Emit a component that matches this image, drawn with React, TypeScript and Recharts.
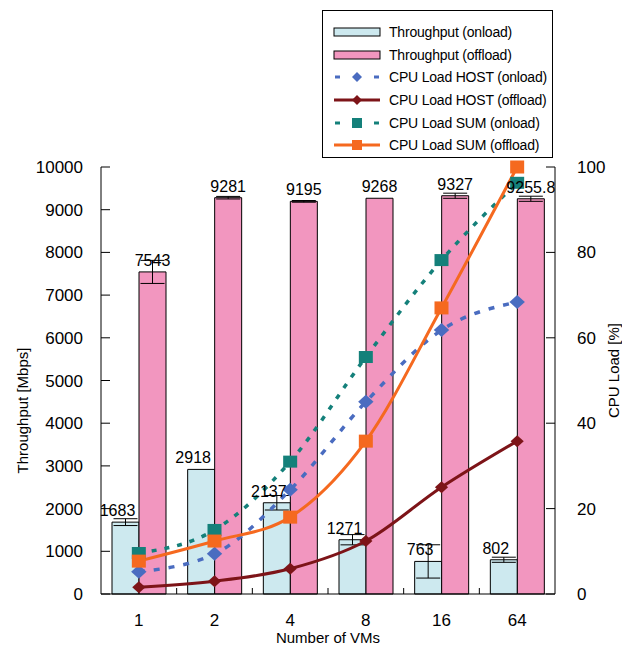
import React from 'react';
import { ComposedChart, Bar, Line, XAxis, YAxis, ErrorBar, LabelList, Legend } from 'recharts';

const vms = ['1', '2', '4', '8', '16', '64'];
const tpOnload = [1683, 2918, 2137, 1271, 763, 802];
const tpOffload = [7543, 9281, 9195, 9268, 9327, 9255.8];
const errOnload = [80, 0, 170, 120, 390, 60];
const errOffload = [270, 30, 20, 0, 60, 60];
const hostOnload = [5.2, 9.4, 24.4, 45, 61.8, 68.4];
const hostOffload = [1.6, 3, 5.9, 12.4, 25, 35.8];
const sumOnload = [9.6, 15, 31, 55.5, 78.2, 96.3];
const sumOffload = [7.7, 12.4, 18, 35.8, 67, 100];
const leftTicks = [0, 1000, 2000, 3000, 4000, 5000, 6000, 7000, 8000, 9000, 10000];
const rightTicks = [0, 20, 40, 60, 80, 100];

const data = vms.map((vm, i) => ({
  vm,
  on: tpOnload[i],
  off: tpOffload[i],
  onErr: errOnload[i],
  offErr: errOffload[i],
  hostOn: hostOnload[i],
  hostOff: hostOffload[i],
  sumOn: sumOnload[i],
  sumOff: sumOffload[i],
}));

const FONT = '"Liberation Sans", Arial, sans-serif';
const ON_FILL = '#cde9ef';
const OFF_FILL = '#f296bf';
const BLUE = '#4a6cc0';
const DARKRED = '#7d1418';
const TEAL = '#14807a';
const ORANGE = '#f5691f';

const W = 622;
const H = 645;
const LEFT_W = 101;
const RIGHT_W = 67;
const BAND = (W - LEFT_W - RIGHT_W) / vms.length;

const diamond = (color: string, r: number) => (p: any) => {
  const { cx, cy, index } = p;
  if (cx == null || cy == null) return <g key={index} />;
  return (
    <polygon
      key={index}
      points={`${cx},${cy - r} ${cx + r * 1.1},${cy} ${cx},${cy + r} ${cx - r * 1.1},${cy}`}
      fill={color}
    />
  );
};

const square = (color: string, w: number, h: number) => (p: any) => {
  const { cx, cy, index } = p;
  if (cx == null || cy == null) return <g key={index} />;
  return <rect key={index} x={cx - w / 2} y={cy - h / 2} width={w} height={h} fill={color} />;
};

const LeftTick = (p: any) => {
  const { x, y, payload } = p;
  return (
    <g>
      <line x1={x + 18} x2={x + 27} y1={y} y2={y} stroke="#000" />
      <text x={x} y={y} dy={6} textAnchor="end" fontSize={17} fontFamily={FONT} fill="#000">
        {payload.value}
      </text>
    </g>
  );
};

const RightTick = (p: any) => {
  const { x, y, payload } = p;
  return (
    <g>
      <line x1={x - 22} x2={x - 31} y1={y} y2={y} stroke="#000" />
      <text x={x} y={y} dy={6} textAnchor="start" fontSize={17} fontFamily={FONT} fill="#000">
        {payload.value}
      </text>
    </g>
  );
};

// category label + small inward tick on the boundary to its right
const BottomTick = (p: any) => {
  const { x, y, payload, index } = p;
  const axisY = y - 18;
  return (
    <g>
      {index < vms.length - 1 && (
        <line x1={x + BAND / 2} x2={x + BAND / 2} y1={axisY} y2={axisY - 6} stroke="#000" />
      )}
      <text x={x} y={y} dy={14} textAnchor="middle" fontSize={17} fontFamily={FONT} fill="#000">
        {payload.value}
      </text>
    </g>
  );
};

const legendItems = [
  { label: 'Throughput (onload)', kind: 'bar', color: ON_FILL },
  { label: 'Throughput (offload)', kind: 'bar', color: OFF_FILL },
  { label: 'CPU Load HOST (onload)', kind: 'dashDiamond', color: BLUE },
  { label: 'CPU Load HOST (offload)', kind: 'lineDiamond', color: DARKRED },
  { label: 'CPU Load SUM (onload)', kind: 'dashSquare', color: TEAL },
  { label: 'CPU Load SUM (offload)', kind: 'lineSquare', color: ORANGE },
];

const LegendIcon = ({ kind, color }: { kind: string; color: string }) => {
  if (kind === 'bar') {
    return (
      <svg width={48} height={14}>
        <rect x={1} y={3} width={46} height={8} fill={color} stroke="#000" strokeWidth={1} />
      </svg>
    );
  }
  const dashed = kind.startsWith('dash');
  const isDiamond = kind.endsWith('Diamond');
  return (
    <svg width={48} height={14}>
      {dashed ? (
        <g stroke={color} strokeWidth={3}>
          <line x1={2} x2={7} y1={7} y2={7} />
          <line x1={41} x2={46} y1={7} y2={7} />
        </g>
      ) : (
        <line x1={1} x2={47} y1={7} y2={7} stroke={color} strokeWidth={3} />
      )}
      {isDiamond ? (
        <polygon points="24,2 29,7 24,12 19,7" fill={color} />
      ) : (
        <rect x={19} y={2} width={10} height={10} fill={color} />
      )}
    </svg>
  );
};

const renderLegend = () => (
  <div
    style={{
      border: '1px solid #000',
      background: '#fff',
      width: 229,
      height: 136,
      boxSizing: 'content-box',
      paddingTop: 10,
      fontFamily: FONT,
      fontSize: 14,
      color: '#000',
    }}
  >
    {legendItems.map((it) => (
      <div key={it.label} style={{ display: 'flex', alignItems: 'center', height: 22.6, paddingLeft: 10 }}>
        <LegendIcon kind={it.kind} color={it.color} />
        <span style={{ marginLeft: 8, whiteSpace: 'nowrap', letterSpacing: -0.2 }}>{it.label}</span>
      </div>
    ))}
  </div>
);

export default function App() {
  return (
    <div style={{ position: 'absolute', left: 0, top: 0, width: W, height: H, background: '#fff' }}>
      <ComposedChart
        width={W}
        height={H}
        data={data}
        margin={{ top: 167, right: 0, bottom: 0, left: 0 }}
        barGap={0}
      >
        <XAxis
          dataKey="vm"
          height={51}
          tickSize={0}
          tickMargin={18}
          axisLine={{ stroke: '#000' }}
          tickLine={false}
          tick={BottomTick}
          label={{ value: 'Number of VMs', position: 'insideBottom', offset: 2, fontSize: 15, fill: '#000', fontFamily: FONT }}
        />
        <XAxis xAxisId="top" dataKey="vm" orientation="top" height={0} tick={false} tickLine={false} axisLine={{ stroke: '#999' }} />
        <YAxis
          yAxisId="tp"
          width={LEFT_W}
          domain={[0, 10000]}
          ticks={leftTicks}
          interval={0}
          tickSize={0}
          tickMargin={18}
          axisLine={{ stroke: '#000' }}
          tickLine={false}
          tick={LeftTick}
          label={{
            content: (p: any) => {
              const vb = p.viewBox;
              return (
                <text
                  transform={`translate(${vb.x + 22}, ${vb.y + vb.height / 2 + 30}) rotate(-90)`}
                  textAnchor="middle"
                  dominantBaseline="central"
                  fontSize={15}
                  fontFamily={FONT}
                  fill="#000"
                >
                  Throughput [Mbps]
                </text>
              );
            },
          }}
        />
        <YAxis
          yAxisId="cpu"
          orientation="right"
          width={RIGHT_W}
          domain={[0, 100]}
          ticks={rightTicks}
          interval={0}
          tickSize={0}
          tickMargin={22}
          axisLine={{ stroke: '#000' }}
          tickLine={false}
          tick={RightTick}
          label={{
            content: (p: any) => {
              const vb = p.viewBox;
              return (
                <text
                  transform={`translate(${vb.x + 58}, ${vb.y + vb.height / 2 - 10}) rotate(-90)`}
                  textAnchor="middle"
                  dominantBaseline="central"
                  fontSize={15}
                  fontFamily={FONT}
                  fill="#000"
                >
                  CPU Load [%]
                </text>
              );
            },
          }}
        />
        <Legend
          content={renderLegend}
          layout="horizontal"
          verticalAlign="middle"
          align="center"
          wrapperStyle={{ left: 322, top: 10, width: 231, height: 148 }}
        />
        <Bar yAxisId="tp" dataKey="on" name="Throughput (onload)" barSize={27} fill={ON_FILL} stroke="#000" strokeWidth={1} isAnimationActive={false}>
          <ErrorBar dataKey="onErr" width={12} stroke="#000" strokeWidth={1} />
          <LabelList dataKey="on" position="top" offset={6} dx={-8} fontSize={16} fill="#000" fontFamily={FONT} />
        </Bar>
        <Bar yAxisId="tp" dataKey="off" name="Throughput (offload)" barSize={27} fill={OFF_FILL} stroke="#000" strokeWidth={1} isAnimationActive={false}>
          <ErrorBar dataKey="offErr" width={12} stroke="#000" strokeWidth={1} />
          <LabelList dataKey="off" position="top" offset={6} fontSize={16} fill="#000" fontFamily={FONT} />
        </Bar>
        <Line yAxisId="cpu" type="monotone" dataKey="hostOn" name="CPU Load HOST (onload)" stroke={BLUE} strokeWidth={3.5} strokeDasharray="6 9" dot={diamond(BLUE, 7)} activeDot={false} isAnimationActive={false} />
        <Line yAxisId="cpu" type="monotone" dataKey="hostOff" name="CPU Load HOST (offload)" stroke={DARKRED} strokeWidth={3} dot={diamond(DARKRED, 6)} activeDot={false} isAnimationActive={false} />
        <Line yAxisId="cpu" type="monotone" dataKey="sumOn" name="CPU Load SUM (onload)" stroke={TEAL} strokeWidth={3.5} strokeDasharray="5 8" dot={square(TEAL, 14, 12)} activeDot={false} isAnimationActive={false} />
        <Line yAxisId="cpu" type="monotone" dataKey="sumOff" name="CPU Load SUM (offload)" stroke={ORANGE} strokeWidth={3} dot={square(ORANGE, 14, 13)} activeDot={false} isAnimationActive={false} />
      </ComposedChart>
    </div>
  );
}
